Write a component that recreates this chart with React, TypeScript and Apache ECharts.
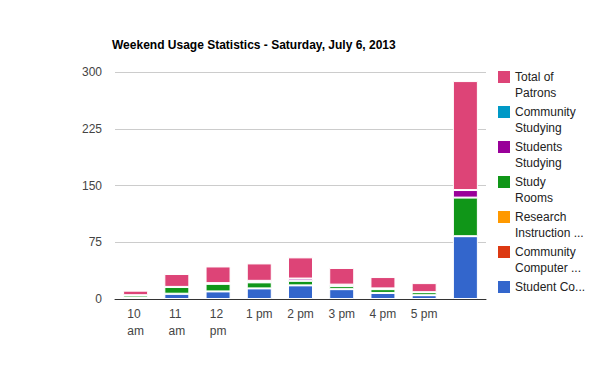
import React, { useEffect, useRef } from "react";
import * as echarts from "echarts";

const categories = ["10 am", "11 am", "12 pm", "1 pm", "2 pm", "3 pm", "4 pm", "5 pm", ""];

const seriesNames = [
  "Student Computer Use",
  "Community Computer Use",
  "Research Instruction Sessions",
  "Study Rooms",
  "Students Studying",
  "Community Studying",
  "Total of Patrons",
];
const legendLabels = [
  "Student Co...",
  "Community\nComputer ...",
  "Research\nInstruction ...",
  "Study\nRooms",
  "Students\nStudying",
  "Community\nStudying",
  "Total of\nPatrons",
];
const colors = ["#3366cc", "#dc3912", "#ff9900", "#109618", "#990099", "#0099c6", "#dd4477"];

const studentComputer = [2, 7, 10, 14, 18, 13, 8, 5, 83];
const communityComputer = [0, 0, 0, 0, 0, 0, 0, 0, 0];
const researchInstruction = [0, 0, 0, 0, 0, 0, 0, 0, 0];
const studyRooms = [3, 9, 10, 8, 6, 4, 5, 4, 51];
const studentsStudying = [0, 0, 1, 2, 3, 2, 1, 0, 10];
const communityStudying = [0, 0, 0, 0, 0, 0, 0, 0, 0];
const totalPatrons = [6, 17, 22, 23, 28, 22, 15, 12, 144];

const yTicks = [0, 75, 150, 225, 300];

const seriesData = [
  studentComputer,
  communityComputer,
  researchInstruction,
  studyRooms,
  studentsStudying,
  communityStudying,
  totalPatrons,
];

const FONT = 'Arial, "Liberation Sans", sans-serif';

export default function App() {
  const ref = useRef<HTMLDivElement>(null);
  useEffect(() => {
    document.body.style.margin = "0";
    const chart = echarts.init(ref.current!, null, { renderer: "svg" });

    // legend (top to bottom = reverse stack order)
    const legendItems: any[] = [];
    const order = [6, 5, 4, 3, 2, 1, 0];
    order.forEach((si, i) => {
      legendItems.push({
        type: "rect",
        shape: { x: 498, y: 71 + 35 * i, width: 12, height: 12 },
        style: { fill: colors[si] },
      });
      legendItems.push({
        type: "text",
        x: 515,
        y: 69 + 35 * i,
        style: {
          text: legendLabels[si],
          font: `12px ${FONT}`,
          fill: "#222222",
          lineHeight: 16,
          verticalAlign: "top",
          align: "left",
        },
      });
    });

    chart.setOption({
      animation: false,
      backgroundColor: "#ffffff",
      title: {
        text: "Weekend Usage Statistics - Saturday, July 6, 2013",
        left: 112,
        top: 39,
        padding: 0,
        textStyle: { fontFamily: FONT, fontSize: 12, fontWeight: "bold", color: "#000000" },
      },
      grid: { left: 115, right: 114, top: 72, bottom: 72, containLabel: false },
      xAxis: {
        type: "category",
        data: categories,
        axisLine: { lineStyle: { color: "#333333", width: 1 } },
        axisTick: { show: false },
        axisLabel: {
          color: "#444444",
          fontFamily: FONT,
          fontSize: 12,
          margin: 6,
          width: 30,
          overflow: "break",
          lineHeight: 17,
          interval: 0,
        },
      },
      yAxis: {
        type: "value",
        min: 0,
        max: 300,
        interval: 75,
        axisLine: { show: false },
        axisTick: { show: false },
        splitLine: { lineStyle: { color: "#cccccc", width: 1 } },
        axisLabel: {
          color: "#444444",
          fontFamily: FONT,
          fontSize: 12,
          margin: 13,
          formatter: (v: number) => (yTicks.includes(v) ? String(v) : ""),
        },
      },
      series: seriesNames.map((name, i) => ({
        name,
        type: "bar",
        stack: "total",
        barWidth: 25,
        data: seriesData[i],
        itemStyle: { color: colors[i], borderColor: "#ffffff", borderWidth: 1 },
      })),
      graphic: legendItems,
    });
    return () => chart.dispose();
  }, []);
  return <div ref={ref} style={{ width: 600, height: 371, position: "absolute", left: 0, top: 0 }} />;
}
